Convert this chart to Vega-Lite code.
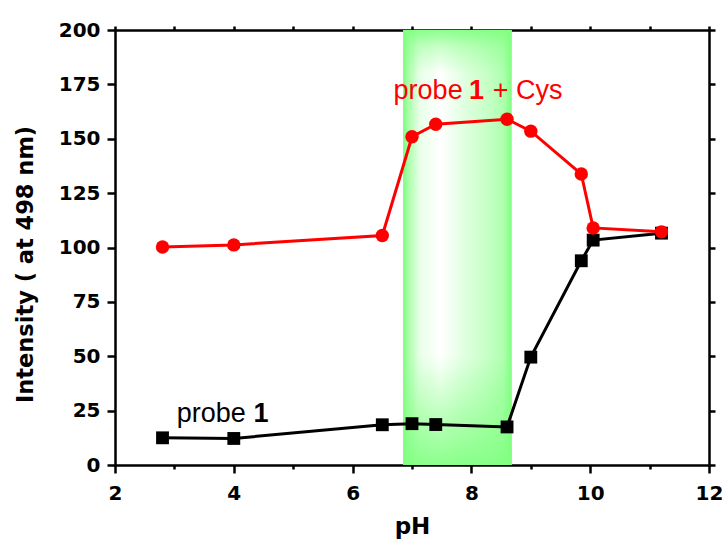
{
  "$schema": "https://vega.github.io/schema/vega-lite/v6.json",
  "width": 594,
  "height": 435,
  "autosize": {"type": "none"},
  "padding": {"left": 115, "top": 30, "right": 17, "bottom": 81},
  "background": "white",
  "config": {
    "view": {"stroke": null},
    "axis": {"grid": false, "domainColor": "black", "tickColor": "black", "domainWidth": 2.5, "tickWidth": 2.5, "labelColor": "black", "titleColor": "black"}
  },
  "datasets": {
    "band": [{"start": 6.85, "end": 8.68}],
    "probe": [
      {"pH": 2.8, "value": 12.5}, {"pH": 4.0, "value": 12.2}, {"pH": 6.5, "value": 18.5},
      {"pH": 7.0, "value": 19.0}, {"pH": 7.4, "value": 18.6}, {"pH": 8.6, "value": 17.5},
      {"pH": 9.0, "value": 49.6}, {"pH": 9.85, "value": 93.9}, {"pH": 10.05, "value": 103.4},
      {"pH": 11.2, "value": 106.6}
    ],
    "cys": [
      {"pH": 2.8, "value": 100.2}, {"pH": 4.0, "value": 101.2}, {"pH": 6.5, "value": 105.5},
      {"pH": 7.0, "value": 150.9}, {"pH": 7.4, "value": 156.7}, {"pH": 8.6, "value": 159.0},
      {"pH": 9.0, "value": 153.5}, {"pH": 9.85, "value": 133.8}, {"pH": 10.05, "value": 109.0},
      {"pH": 11.2, "value": 107.2}
    ],
    "txt": [
      {"series": "probe 1 + Cys", "pH": 6.69, "value": 168.4, "label": "probe"},
      {"series": "probe 1 + Cys", "pH": 8.36, "value": 168.4, "label": "+ Cys"},
      {"series": "probe 1", "pH": 3.04, "value": 19.9, "label": "probe"}
    ],
    "txtb": [
      {"series": "probe 1 + Cys", "pH": 7.96, "value": 168.4, "label": "1"},
      {"series": "probe 1", "pH": 4.33, "value": 19.9, "label": "1"}
    ]
  },
  "layer": [
    {
      "data": {"name": "band"},
      "mark": {
        "type": "rect",
        "color": {
          "gradient": "linear", "x1": 0, "y1": 0, "x2": 1, "y2": 0,
          "stops": [
            {"offset": 0, "color": "#7cfc7c"},
            {"offset": 0.05, "color": "#aaffaa"},
            {"offset": 0.15, "color": "#e8ffe8"},
            {"offset": 0.35, "color": "#ffffff"},
            {"offset": 0.55, "color": "#e2ffe2"},
            {"offset": 0.75, "color": "#caffca"},
            {"offset": 0.92, "color": "#b0ffb0"},
            {"offset": 1, "color": "#80ff80"}
          ]
        }
      },
      "encoding": {
        "x": {
          "field": "start", "type": "quantitative",
          "scale": {"domain": [2, 12], "nice": false, "zero": false},
          "axis": {
            "orient": "bottom", "values": [2, 4, 6, 8, 10, 12], "tickSize": 8,
            "labelFont": "DejaVu Sans", "labelFontWeight": "bold", "labelFontSize": 20,
            "labelPadding": 10, "labelFlush": false, "labelOverlap": false, "labelBound": false,
            "title": "pH", "titleFont": "DejaVu Sans", "titleFontWeight": "bold", "titleFontSize": 23, "titlePadding": 12
          }
        },
        "x2": {"field": "end"},
        "y": {
          "datum": 0, "type": "quantitative",
          "scale": {"domain": [0, 200], "nice": false},
          "axis": {
            "orient": "left", "values": [0, 25, 50, 75, 100, 125, 150, 175, 200], "tickSize": 8,
            "labelFont": "DejaVu Sans", "labelFontWeight": "bold", "labelFontSize": 20,
            "labelPadding": 7, "labelFlush": false, "labelOverlap": false, "labelBound": false,
            "title": "Intensity ( at 498 nm)", "titleFont": "DejaVu Sans", "titleFontWeight": "bold", "titleFontSize": 22.5, "titlePadding": 21, "titleY": 234
          }
        },
        "y2": {"datum": 200}
      }
    },
    {
      "data": {"name": "band"},
      "mark": {
        "type": "rect",
        "color": {
          "gradient": "linear", "x1": 0, "y1": 0, "x2": 0, "y2": 1,
          "stops": [
            {"offset": 0, "color": "rgba(128,255,128,0.9)"},
            {"offset": 0.04, "color": "rgba(128,255,128,0.4)"},
            {"offset": 0.1, "color": "rgba(128,255,128,0)"},
            {"offset": 0.75, "color": "rgba(128,255,128,0)"},
            {"offset": 0.9, "color": "rgba(128,255,128,0.55)"},
            {"offset": 1, "color": "rgba(128,255,128,0.9)"}
          ]
        }
      },
      "encoding": {
        "x": {
          "field": "start", "type": "quantitative",
          "axis": {"orient": "bottom", "values": [3, 5, 7, 9, 11], "tickSize": 4, "labels": false, "domain": false, "title": null}
        },
        "x2": {"field": "end"},
        "y": {
          "datum": 0, "type": "quantitative",
          "axis": {"orient": "right", "values": [0, 25, 50, 75, 100, 125, 150, 175, 200], "tickSize": 6, "labels": false, "title": null}
        },
        "y2": {"datum": 200}
      }
    },
    {
      "data": {"name": "probe"},
      "mark": {
        "type": "line", "color": "black", "strokeWidth": 3,
        "point": {"shape": "square", "size": 165, "filled": true, "color": "black", "opacity": 1}
      },
      "encoding": {
        "x": {
          "field": "pH", "type": "quantitative",
          "axis": {"orient": "top", "values": [2, 3, 4, 5, 6, 7, 8, 9, 10, 11, 12], "tickSize": 4, "labels": false, "title": null}
        },
        "y": {"field": "value", "type": "quantitative", "axis": null}
      }
    },
    {
      "data": {"name": "cys"},
      "mark": {
        "type": "line", "color": "#ff0000", "strokeWidth": 3,
        "point": {"shape": "circle", "size": 180, "filled": true, "color": "#ff0000", "opacity": 1}
      },
      "encoding": {
        "x": {"field": "pH", "type": "quantitative", "axis": null},
        "y": {"field": "value", "type": "quantitative", "axis": null}
      }
    },
    {
      "data": {"name": "txt"},
      "mark": {"type": "text", "align": "left", "baseline": "alphabetic", "font": "Liberation Sans", "fontSize": 27},
      "encoding": {
        "x": {"field": "pH", "type": "quantitative", "axis": null},
        "y": {"field": "value", "type": "quantitative", "axis": null},
        "text": {"field": "label"},
        "color": {"field": "series", "type": "nominal", "scale": {"domain": ["probe 1", "probe 1 + Cys"], "range": ["black", "#ff0000"]}, "legend": null}
      }
    },
    {
      "data": {"name": "txtb"},
      "mark": {"type": "text", "align": "left", "baseline": "alphabetic", "font": "Liberation Sans", "fontSize": 27, "fontWeight": "bold"},
      "encoding": {
        "x": {"field": "pH", "type": "quantitative", "axis": null},
        "y": {"field": "value", "type": "quantitative", "axis": null},
        "text": {"field": "label"},
        "color": {"field": "series", "type": "nominal", "legend": null}
      }
    }
  ],
  "resolve": {"axis": {"x": "independent", "y": "independent"}}
}
